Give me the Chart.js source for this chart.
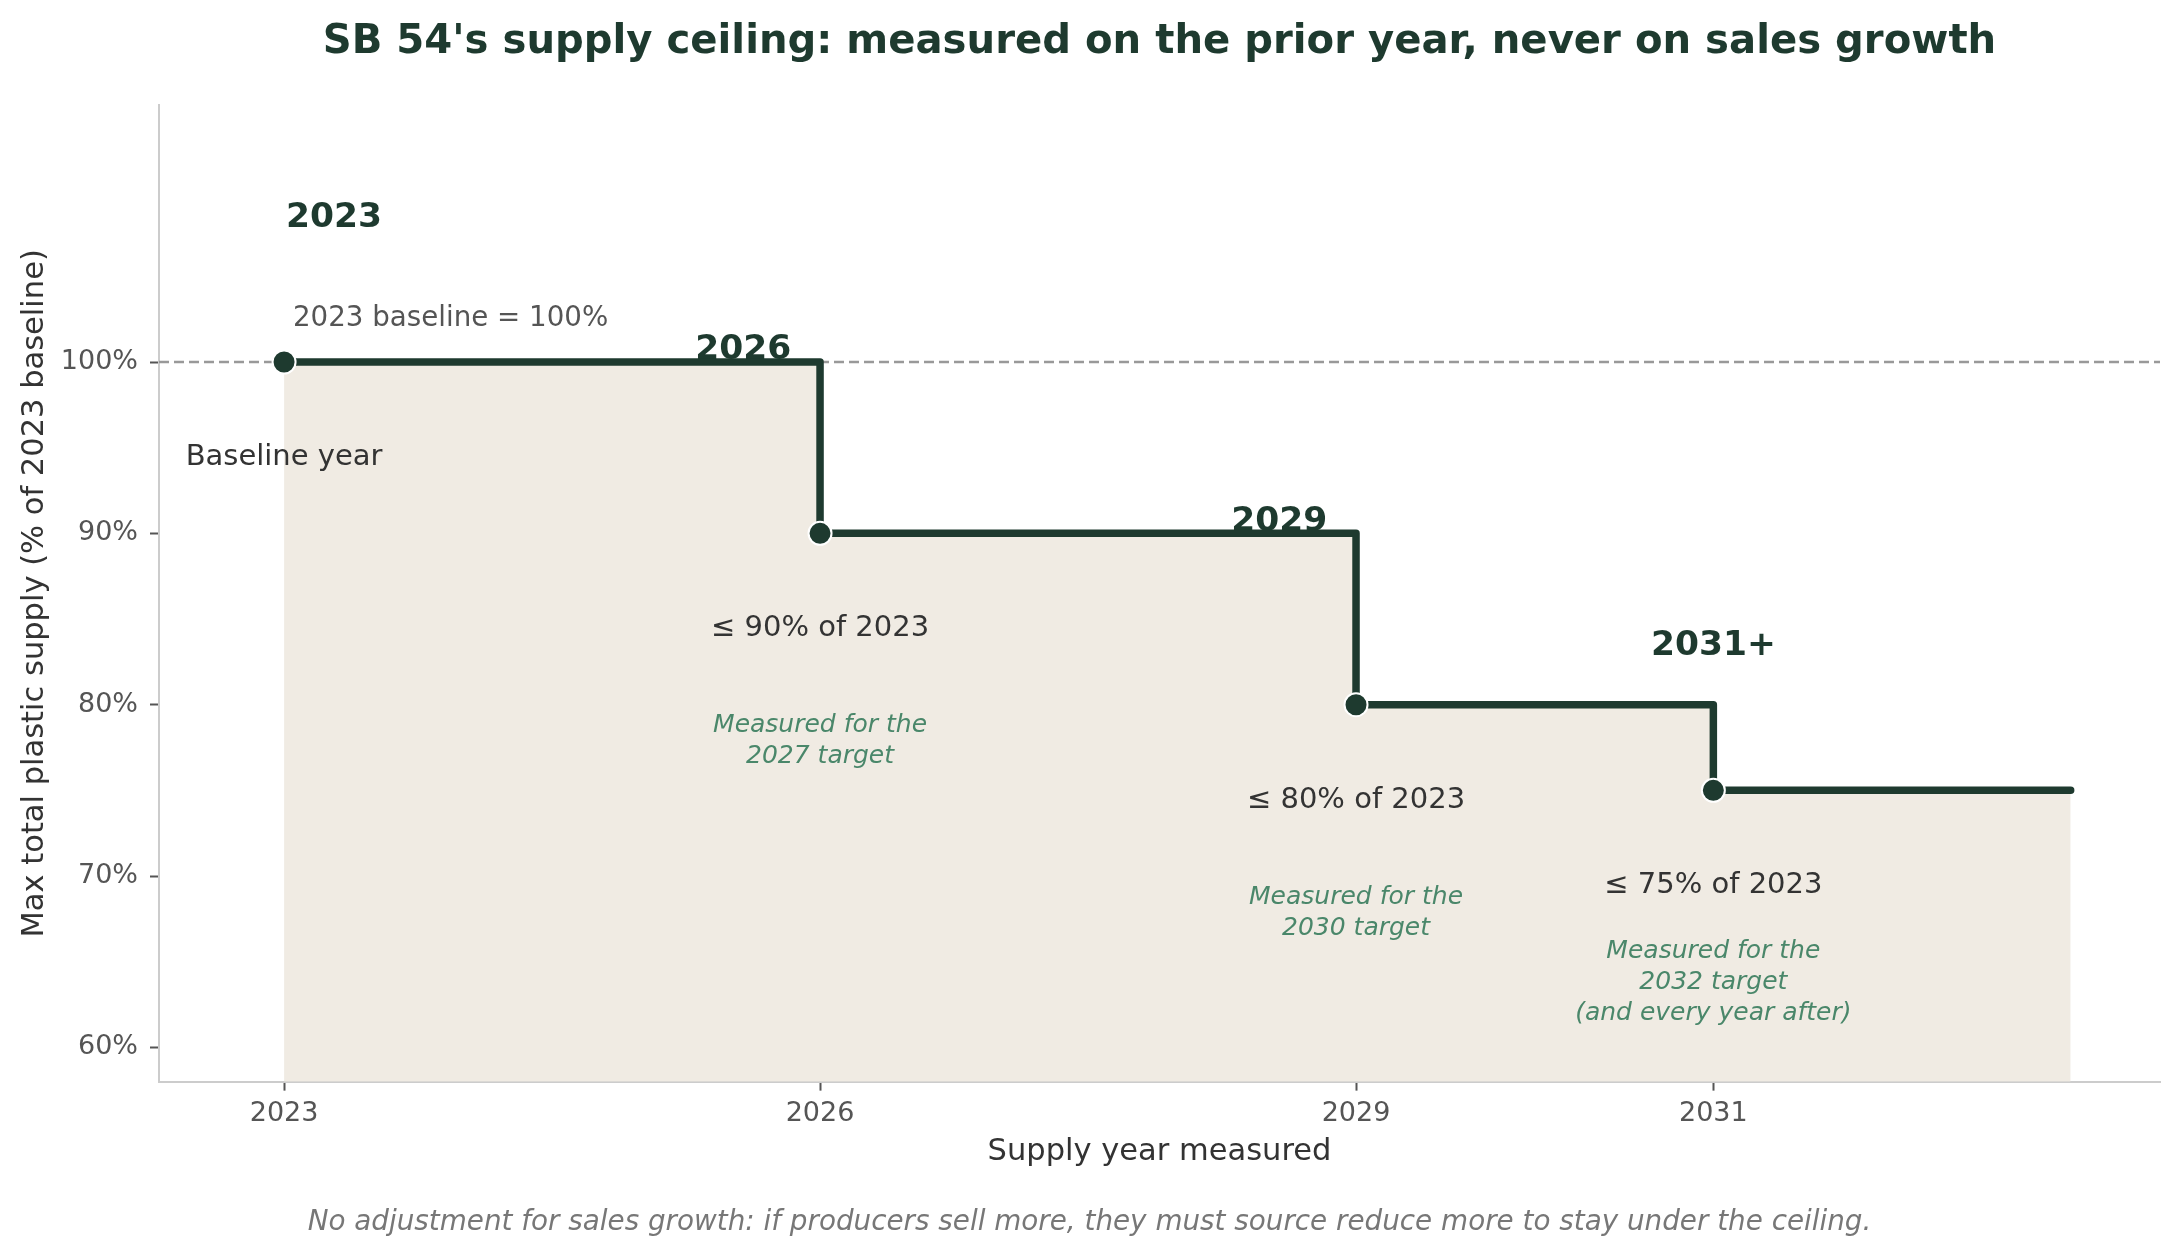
<!DOCTYPE html>
<html>
<head>
<meta charset="utf-8">
<script src="https://cdn.jsdelivr.net/npm/chart.js@4.4.1/dist/chart.umd.min.js"></script>
<style>
  html, body { margin: 0; padding: 0; background: #ffffff; }
  canvas { display: block; }
</style>
</head>
<body>
<canvas id="chart" width="2179" height="1258"></canvas>
<script>
// ---------------- DATA ----------------
const supplyYears   = [2023, 2026, 2029, 2031, 2033];
const ceilingPct    = [100, 90, 80, 75, 75];
const baselinePct   = 100;
const xTickYears    = [2023, 2026, 2029, 2031];
const yTickPct      = [60, 70, 80, 90, 100];
const yearLabels    = ['2023', '2026', '2029', '2031+'];
const limitLabels   = ['Baseline year', '≤ 90% of 2023', '≤ 80% of 2023', '≤ 75% of 2023'];
const measuredLabels = [
  [],
  ['Measured for the', '2027 target'],
  ['Measured for the', '2030 target'],
  ['Measured for the', '2032 target', '(and every year after)']
];
const baselineNote  = '2023 baseline = 100%';
const titleText     = "SB 54's supply ceiling: measured on the prior year, never on sales growth";
const footerText    = 'No adjustment for sales growth: if producers sell more, they must source reduce more to stay under the ceiling.';
const xTitle        = 'Supply year measured';
const yTitle        = 'Max total plastic supply (% of 2023 baseline)';

// ---------------- LAYOUT / STYLE ----------------
const X_RANGE = [2022.3, 2033.5];
const Y_RANGE = [58, 115];
const DARK = '#1e3a2f';
const FILL = '#f0ebe3';
const GREEN = '#4a876a';
const FONT = '"DejaVu Sans", sans-serif';
// annotation anchors in data units (relative to each step)
const YEAR_LABEL_ANCHOR = [[2023.28, 107.9], [2025.57, 100.15], [2028.57, 90.15], [2031.0, 82.92]];
const LIMIT_OFFSET = -6.0;        // baseline of limit label below the step value
const MEASURED_BOTTOM = -13.42;   // baseline of last measured line below the step value
const MEASURED_LINE_PX = 31;
const NOTE_ANCHOR = [2023.05, 102.1];

const annotations = {
  id: 'annotations',
  beforeDatasetsDraw(chart) {
    const { ctx, scales: { x, y } } = chart;
    ctx.save();
    ctx.textBaseline = 'alphabetic';

    // big year labels (beneath the step line)
    ctx.font = 'bold 34.5px ' + FONT;
    ctx.fillStyle = DARK;
    ctx.textAlign = 'center';
    yearLabels.forEach((t, i) => {
      const a = YEAR_LABEL_ANCHOR[i];
      ctx.fillText(t, x.getPixelForValue(a[0]), y.getPixelForValue(a[1]));
    });

    // baseline note
    ctx.font = '27.7px ' + FONT;
    ctx.fillStyle = '#555555';
    ctx.textAlign = 'left';
    ctx.fillText(baselineNote, x.getPixelForValue(NOTE_ANCHOR[0]), y.getPixelForValue(NOTE_ANCHOR[1]));

    // limit labels
    ctx.font = '29px ' + FONT;
    ctx.fillStyle = '#333333';
    ctx.textAlign = 'center';
    limitLabels.forEach((t, i) => {
      ctx.fillText(t, x.getPixelForValue(supplyYears[i]), y.getPixelForValue(ceilingPct[i] + LIMIT_OFFSET));
    });

    // measured-for labels
    ctx.font = 'italic 25px ' + FONT;
    ctx.fillStyle = GREEN;
    measuredLabels.forEach((lines, i) => {
      if (!lines.length) return;
      const px = x.getPixelForValue(supplyYears[i]);
      const bottom = y.getPixelForValue(ceilingPct[i] + MEASURED_BOTTOM);
      lines.forEach((ln, j) => {
        ctx.fillText(ln, px, bottom - (lines.length - 1 - j) * MEASURED_LINE_PX);
      });
    });
    ctx.restore();
  }
};

const axisGrid = {
  display: true,
  drawOnChartArea: false,
  drawTicks: true,
  tickLength: 9,
  tickColor: '#555555',
  tickWidth: 2
};
const axisBorder = { display: true, color: '#cccccc', width: 2 };

new Chart(document.getElementById('chart'), {
  type: 'line',
  data: {
    datasets: [
      {
        label: 'Supply ceiling',
        data: supplyYears.map((yr, i) => ({ x: yr, y: ceilingPct[i] })),
        stepped: 'before',
        borderColor: DARK,
        borderWidth: 7.5,
        borderCapStyle: 'round',
        borderJoinStyle: 'round',
        backgroundColor: FILL,
        fill: 'start',
        pointRadius: supplyYears.map((yr, i) => (i < supplyYears.length - 1 ? 11.5 : 0)),
        pointBackgroundColor: DARK,
        pointBorderColor: '#ffffff',
        pointBorderWidth: 2,
        order: 0
      },
      {
        label: 'Baseline',
        data: X_RANGE.map(v => ({ x: v, y: baselinePct })),
        borderColor: '#999999',
        borderWidth: 2.5,
        borderDash: [10, 5],
        pointRadius: 0,
        fill: false,
        order: 1
      }
    ]
  },
  options: {
    responsive: false,
    devicePixelRatio: 1,
    animation: false,
    events: [],
    layout: { padding: { top: 0, left: 0, right: 0, bottom: 0 } },
    font: { family: FONT },
    plugins: {
      legend: { display: false },
      tooltip: { enabled: false },
      filler: { drawTime: 'beforeDatasetsDraw' },
      title: {
        display: true,
        text: titleText,
        fullSize: false,
        color: DARK,
        font: { family: FONT, size: 40.2, weight: 'bold', lineHeight: 1.2 },
        padding: { top: 18.5, bottom: 38.3 }
      },
      subtitle: {
        display: true,
        position: 'bottom',
        text: footerText,
        color: '#777777',
        font: { family: FONT, size: 27.8, style: 'italic', lineHeight: 1.2 },
        padding: { top: 0, bottom: 19 }
      }
    },
    scales: {
      x: {
        type: 'linear',
        min: X_RANGE[0],
        max: X_RANGE[1],
        afterBuildTicks: s => { s.ticks = xTickYears.map(v => ({ value: v })); },
        afterFit: s => { s.height = 124; },
        ticks: {
          autoSkip: false, maxRotation: 0, padding: 7,
          color: '#555555',
          font: { family: FONT, size: 27 },
          callback: v => String(v)
        },
        grid: axisGrid,
        border: axisBorder,
        title: {
          display: true, text: xTitle, color: '#333333',
          font: { family: FONT, size: 30.5, lineHeight: 1 },
          padding: { top: 0, bottom: 38 }
        }
      },
      y: {
        type: 'linear',
        min: Y_RANGE[0],
        max: Y_RANGE[1],
        afterBuildTicks: s => { s.ticks = yTickPct.map(v => ({ value: v })); },
        afterFit: s => { s.width = 159; },
        ticks: {
          padding: 12,
          color: '#555555',
          font: { family: FONT, size: 27 },
          callback: v => v + '%'
        },
        grid: axisGrid,
        border: axisBorder,
        title: {
          display: true, text: yTitle, color: '#333333',
          font: { family: FONT, size: 30.5, lineHeight: 1 },
          padding: { top: 20, bottom: 0 }
        }
      },
      // empty right margin (no spine, no ticks) so the plot ends where the reference's does
      yRightMargin: {
        type: 'linear',
        position: 'right',
        min: Y_RANGE[0],
        max: Y_RANGE[1],
        display: true,
        ticks: { display: false },
        grid: { display: false, drawTicks: false },
        border: { display: false },
        afterFit: s => { s.width = 19; }
      }
    }
  },
  plugins: [annotations]
});
</script>
</body>
</html>
